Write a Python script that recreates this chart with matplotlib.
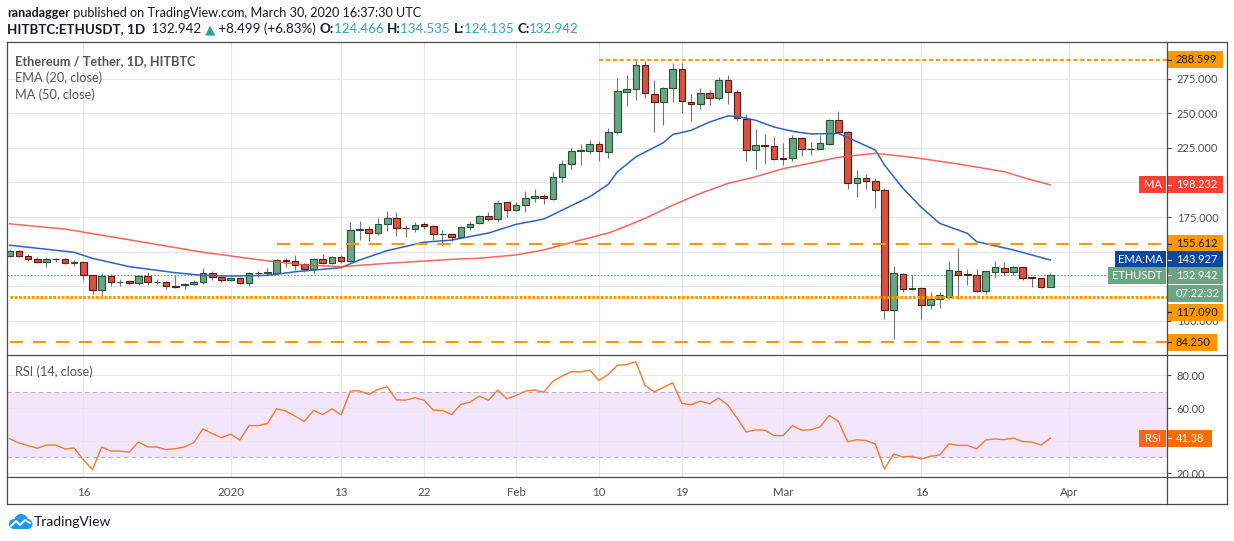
import numpy as np
import pandas as pd
import matplotlib
matplotlib.use("Agg")
import matplotlib.pyplot as plt
import matplotlib.dates as mdates
from matplotlib.patches import Rectangle, Circle
from matplotlib.lines import Line2D
from matplotlib.transforms import blended_transform_factory

plt.rcParams['font.family'] = ['Lato', 'DejaVu Sans']

# ---- data (HITBTC ETH/USDT daily) ----
start = '2019-12-08'
opens = [147.1, 150.5, 147.1, 144.9, 142.7, 144.7, 144.5, 141.5, 142.4, 133.0,
         122.1, 132.3, 127.9, 128.4, 127.0, 132.3, 127.7, 127.7, 125.3, 125.5,
         126.7, 127.7, 134.2, 131.3, 129.1, 130.6, 127.0, 134.2, 134.5, 134.7,
         143.9, 143.0, 140.8, 137.6, 144.4, 142.0, 146.4, 143.4, 165.3, 166.3,
         163.8, 169.9, 174.3, 167.0, 166.7, 169.9, 168.2, 162.6, 162.6, 160.2,
         167.7, 170.6, 176.0, 173.5, 185.7, 179.9, 183.5, 188.5, 189.9, 188.2,
         203.6, 213.0, 223.1, 223.1, 228.1, 222.1, 236.8, 265.6, 267.8, 285.1,
         263.9, 258.2, 268.3, 282.2, 258.4, 256.7, 264.9, 261.1, 274.3, 265.6,
         246.2, 223.8, 227.4, 226.7, 217.5, 217.5, 231.9, 224.2, 224.0, 228.1,
         244.9, 236.7, 199.4, 203.0, 200.8, 194.5, 107.7, 133.7, 122.7, 123.4,
         111.1, 115.5, 117.4, 135.6, 133.5, 133.0, 121.7, 135.5, 137.9, 135.5,
         138.6, 131.4, 130.7, 124.466]
highs = [151.9, 151.2, 148.3, 146.4, 145.9, 145.6, 145.4, 143.7, 142.7, 133.4,
         134.2, 133.7, 129.9, 129.4, 132.8, 135.2, 129.9, 128.4, 132.8, 127.4,
         129.4, 138.1, 135.9, 132.8, 131.8, 131.3, 135.2, 136.2, 137.9, 144.7,
         145.1, 147.3, 142.0, 145.6, 148.1, 147.1, 147.6, 171.1, 172.3, 168.2,
         174.5, 179.6, 178.4, 169.2, 171.4, 171.6, 168.9, 165.3, 162.9, 168.7,
         172.3, 176.5, 178.9, 187.6, 185.9, 185.7, 193.7, 195.2, 191.3, 207.7,
         216.1, 224.8, 227.6, 230.5, 229.8, 239.4, 275.5, 277.4, 288.599, 288.2,
         273.8, 269.0, 286.5, 286.5, 264.2, 268.3, 266.8, 276.0, 277.4, 266.8,
         249.8, 238.5, 234.9, 232.7, 228.4, 234.3, 233.1, 229.3, 234.3, 245.7,
         251.7, 237.2, 209.0, 206.1, 203.0, 195.8, 139.6, 134.5, 133.1, 124.1,
         120.8, 121.0, 143.2, 152.8, 137.2, 137.2, 136.2, 143.2, 142.2, 139.6,
         139.1, 131.9, 131.1, 134.535]
lows = [145.9, 146.4, 143.4, 142.0, 139.1, 142.7, 141.0, 139.8, 129.4, 119.2,
        116.7, 125.2, 125.2, 126.5, 126.0, 126.0, 126.5, 123.1, 124.0, 122.6,
        125.5, 126.9, 129.4, 127.7, 128.4, 126.2, 125.0, 131.8, 132.8, 134.2,
        138.6, 136.7, 135.2, 134.7, 141.0, 141.0, 141.5, 142.7, 158.5, 157.8,
        162.1, 164.6, 161.4, 160.9, 164.3, 166.3, 158.5, 154.9, 157.8, 159.5,
        165.3, 169.7, 171.8, 171.4, 174.8, 179.1, 178.8, 186.0, 184.6, 187.5,
        200.5, 209.6, 212.5, 220.9, 215.4, 217.8, 235.1, 255.3, 259.6, 261.1,
        236.5, 241.3, 258.2, 250.2, 244.7, 252.9, 255.8, 259.9, 256.5, 244.5,
        215.4, 209.9, 213.5, 216.1, 212.5, 215.8, 219.1, 219.9, 224.0, 227.1,
        235.5, 195.5, 189.7, 195.5, 181.3, 101.0, 87.0, 121.0, 122.2, 101.0,
        108.7, 109.4, 115.5, 116.0, 125.6, 121.0, 119.1, 131.9, 133.1, 133.1,
        129.5, 124.6, 123.4, 124.135]
closes = [150.5, 147.1, 144.9, 142.7, 144.7, 144.5, 141.5, 142.7, 133.0, 122.1,
          132.3, 127.7, 128.2, 127.0, 132.3, 127.7, 128.2, 124.8, 124.5, 126.5,
          127.9, 134.2, 131.3, 129.1, 130.6, 127.0, 134.2, 134.7, 135.2, 143.9,
          143.0, 140.5, 137.6, 144.4, 142.0, 146.4, 143.4, 165.3, 166.3, 163.8,
          169.9, 174.3, 167.0, 166.8, 169.2, 168.2, 162.6, 162.8, 160.2, 167.7,
          169.9, 176.0, 173.5, 185.2, 179.9, 184.0, 188.8, 189.9, 188.5, 203.6,
          213.2, 223.1, 223.3, 228.1, 223.1, 236.8, 265.9, 267.8, 285.1, 264.9,
          258.2, 268.3, 282.2, 259.1, 256.7, 264.9, 261.3, 274.3, 265.6, 246.9,
          223.8, 227.4, 226.7, 217.3, 217.3, 231.9, 224.0, 224.0, 228.3, 244.9,
          236.7, 199.4, 203.0, 200.8, 194.5, 107.7, 134.2, 122.7, 123.4, 111.1,
          115.5, 118.3, 136.4, 133.0, 133.3, 121.7, 135.6, 138.6, 135.5, 138.6,
          131.1, 130.7, 124.2, 132.942]
rsi = [41.2, 38.6, 36.9, 35.3, 37.3, 37.3, 34.9, 35.5, 28.3, 22.2,
       36.1, 33.6, 33.6, 33.0, 39.2, 36.1, 36.1, 34.5, 35.1, 36.1,
       38.8, 47.2, 44.3, 41.9, 43.9, 40.4, 49.2, 49.2, 50.5, 59.5,
       58.1, 55.0, 51.7, 58.5, 56.0, 59.5, 55.8, 70.4, 70.6, 68.3,
       71.4, 73.0, 65.0, 64.8, 66.3, 64.8, 58.7, 58.5, 56.0, 62.2,
       63.6, 67.3, 64.8, 71.0, 65.6, 67.7, 70.4, 71.0, 69.7, 76.5,
       79.6, 82.3, 82.1, 83.3, 76.9, 80.6, 86.2, 86.6, 88.4, 73.8,
       70.0, 72.6, 75.5, 62.8, 62.0, 64.2, 62.6, 66.1, 61.7, 53.7,
       45.3, 46.6, 46.4, 43.1, 43.1, 49.2, 46.4, 46.6, 48.4, 55.4,
       51.9, 39.2, 40.6, 40.0, 38.0, 22.6, 31.8, 30.0, 30.4, 28.7,
       30.4, 31.2, 38.0, 37.1, 37.1, 34.9, 40.4, 41.0, 40.6, 41.6,
       39.4, 39.2, 37.3, 41.38]

# EMA(20) / MA(50), days counted from `start`
ema_day = [0, 7, 9, 13, 18, 21, 24, 28, 31, 36, 38, 41, 45, 48, 52, 55, 58, 60, 63, 65,
           66, 68, 71, 72, 74, 76, 78, 79, 81, 83, 85, 87, 90, 92, 94, 95, 97, 99, 101,
           104, 105, 109, 113]
ema_val = [154.6, 149.5, 145.1, 139.1, 134.7, 132.8, 132.3, 132.8, 135.4, 138.4, 143.9,
           150.7, 156.8, 158.3, 163.4, 169.7, 173.5, 180.0, 189.7, 198.6, 207.7, 218.5,
           228.8, 234.6, 237.7, 243.7, 248.1, 247.8, 245.0, 240.1, 237.0, 235.1, 235.5,
           229.5, 223.5, 212.6, 195.8, 182.0, 170.4, 163.2, 157.2, 151.2, 143.927]
ma_day = [0, 6, 13, 21, 28, 32, 36, 41, 48, 51, 55, 58, 61, 65, 67, 69, 72, 75, 78, 81,
          84, 87, 90, 94, 98, 103, 108, 110, 113]
ma_val = [170.1, 166.3, 158.5, 149.5, 143.3, 140.3, 139.1, 141.5, 144.4, 145.2, 147.6,
          151.2, 156.6, 163.4, 168.5, 174.0, 183.5, 192.1, 199.3, 204.1, 210.0, 214.0,
          218.2, 221.1, 218.2, 213.4, 207.8, 203.7, 198.232]

level_vals = [288.599, 155.612, 117.090, 84.250]
level_from = ['2020-02-10', '2020-01-06', '2019-12-08', '2019-12-08']
last_price = 132.942
countdown = '07:22:32'

tick_dates = ['2019-12-16', '2020-01-01', '2020-01-13', '2020-01-22', '2020-02-01',
              '2020-02-10', '2020-02-19', '2020-03-01', '2020-03-16', '2020-04-01']
tick_labels = ['16', '2020', '13', '22', 'Feb', '10', '19', 'Mar', '16', 'Apr']

# ---- colours ----
UP, DOWN = '#6BA583', '#D75442'
UP_EDGE, DOWN_EDGE = '#225437', '#5B1A13'
WICK = '#737375'
ORANGE = '#FF9800'
GRID = '#E6E6E6'
FRAME = '#4A4A4A'
TXT = '#4F4F4F'
DARK = '#131722'
TEAL = '#35AB9C'

W, H = 1234, 541
fig = plt.figure(figsize=(W / 100, H / 100), dpi=100)


def frac(x0, y0, x1, y1):
    return [x0 / W, 1 - y1 / H, (x1 - x0) / W, (y1 - y0) / H]


ax = fig.add_axes(frac(7, 42, 1167, 355))
rx = fig.add_axes(frac(7, 355, 1167, 477), sharex=ax)

o, h, l, c = (np.array(v) for v in (opens, highs, lows, closes))
d0 = mdates.date2num(pd.Timestamp(start))
dates = mdates.date2num(pd.date_range(start, periods=len(c)))
up = c >= o

ax.set_xlim(d0 - 0.285, d0 + 125.68)
ax.set_ylim(75.2, 301.6)
rx.set_ylim(17.7, 92.5)

# candles
ax.vlines(dates, l, h, color=WICK, lw=0.8, zorder=3)
ax.bar(dates, np.maximum(np.abs(c - o), 0.05), bottom=np.minimum(o, c), width=0.72,
       color=np.where(up, UP, DOWN), edgecolor=np.where(up, UP_EDGE, DOWN_EDGE),
       linewidth=0.8, zorder=4)

ax.plot(d0 + np.array(ema_day), ema_val, color='#2F62C4', lw=1.1, zorder=5)
ax.plot(d0 + np.array(ma_day), ma_val, color='#F4564A', lw=1.1, alpha=0.9, zorder=5)

# horizontal levels
xr = ax.get_xlim()[1]
lvl_style = [dict(lw=1.5, dashes=(2.0, 1.3)), dict(lw=1.5, dashes=(6.3, 4.7)),
             dict(lw=2.2, dashes=(0.9, 0.5)), dict(lw=1.5, dashes=(6.3, 4.7))]
for v, f, st in zip(level_vals, level_from, lvl_style):
    ax.plot([mdates.date2num(pd.Timestamp(f)), xr], [v, v], color=ORANGE, zorder=6,
            solid_capstyle='butt', dash_capstyle='butt', **st)
ax.axhline(last_price, color=UP, lw=0.8, dashes=(1.5, 1.5), zorder=2)

# grids / ticks
tick_nums = mdates.date2num(pd.to_datetime(tick_dates))
for a in (ax, rx):
    a.set_xticks(tick_nums)
    a.grid(True, color=GRID, lw=0.8)
    a.set_axisbelow(True)
    for s in a.spines.values():
        s.set_visible(False)
    a.yaxis.tick_right()
    a.tick_params(axis='y', length=3, width=0.8, color=FRAME, labelcolor=TXT,
                  labelsize=8, pad=4)
ax.tick_params(axis='x', length=0, labelbottom=False)
rx.set_xticklabels(tick_labels)
rx.tick_params(axis='x', length=0, labelsize=8.3, labelcolor=TXT, pad=7)

# labels hidden behind the price tags in the reference are left blank
ax.set_yticks([100, 125, 150, 175, 200, 225, 250, 275])
ax.set_yticklabels(['' if v in (125, 150, 200) else f'{v:.3f}' for v in ax.get_yticks()])
rx.set_yticks([20, 40, 60, 80])
rx.set_yticklabels(['' if v == 40 else f'{v:.2f}' for v in rx.get_yticks()])

# RSI pane
rx.axhspan(30, 70, color='#F3E6FC', lw=0, zorder=0.5)
for v in (70, 30):
    rx.axhline(v, color='#B5B3BA', lw=0.8, dashes=(4, 3), zorder=1)
rx.plot(dates, rsi, color='#F57A30', lw=1.0, zorder=5)


# price tags on the axis (shift = pixels moved down to avoid a neighbour)
def tag(a, y, text, fc, tc, w=56, left=False, hpx=17, dash=True, shift=0):
    pos = a.get_position()
    aw, ah = pos.width * W, pos.height * H
    y0, y1 = a.get_ylim()
    ppu = ah / (y1 - y0)
    y = y - shift / ppu
    tr = blended_transform_factory(a.transAxes, a.transData)
    if left:
        x0 = 1 - (w + 1) / aw
        a.add_patch(Rectangle((x0, y - hpx / 2 / ppu), w / aw, hpx / ppu, transform=tr,
                              fc=fc, ec='none', clip_on=False, zorder=20))
        a.text(x0 + w / 2 / aw, y, text, transform=tr, ha='center', va='center',
               color=tc, fontsize=8, clip_on=False, zorder=21)
    else:
        a.add_patch(Rectangle((1, y - hpx / 2 / ppu), w / aw, hpx / ppu, transform=tr,
                              fc=fc, ec='none', clip_on=False, zorder=20))
        a.text(1 + 9 / aw, y, text, transform=tr, ha='left', va='center',
               color=tc, fontsize=8, clip_on=False, zorder=21)
        if dash:
            a.plot([1, 1 + 4 / aw], [y, y], transform=tr, color=tc, lw=0.8,
                   clip_on=False, zorder=22)


tag(ax, level_vals[0], f'{level_vals[0]:.3f}', ORANGE, DARK)
tag(ax, level_vals[1], f'{level_vals[1]:.3f}', ORANGE, DARK)
tag(ax, level_vals[2], f'{level_vals[2]:.3f}', ORANGE, DARK, shift=15)
tag(ax, level_vals[3], f'{level_vals[3]:.3f}', ORANGE, DARK, w=50)
tag(ax, ma_val[-1], 'MA', '#F44336', 'white', w=27, left=True)
tag(ax, ma_val[-1], f'{ma_val[-1]:.3f}', '#F44336', 'white')
tag(ax, ema_val[-1], 'EMA:MA', '#0E47A1', 'white', w=51, left=True)
tag(ax, ema_val[-1], f'{ema_val[-1]:.3f}', '#0E47A1', 'white')
tag(ax, last_price, 'ETHUSDT', UP, 'white', w=58, left=True)
tag(ax, last_price, f'{last_price:.3f}', UP, 'white')
tag(ax, last_price, countdown, UP, 'white', dash=False, shift=18)
tag(rx, rsi[-1], 'RSI', '#F4681E', 'white', w=27, left=True)
tag(rx, rsi[-1], f'{rsi[-1]:.2f}', '#FF6D00', 'white', w=45)

# frame lines
for y in (42, 355, 477, 504):
    fig.add_artist(Line2D([7 / W, 1227 / W], [1 - y / H] * 2, color=FRAME, lw=0.9))
for x in (7, 1167, 1227):
    fig.add_artist(Line2D([x / W] * 2, [1 - 42 / H, 1 - 504 / H], color=FRAME, lw=0.9))

# legends inside panes
ax.text(8 / 1160, 1 - 19 / 313, 'Ethereum / Tether, 1D, HITBTC', transform=ax.transAxes,
        fontsize=9.2, color='#555555', fontweight='bold', va='center', zorder=30)
ax.text(8 / 1160, 1 - 36 / 313, 'EMA (20, close)', transform=ax.transAxes,
        fontsize=9.2, color='#555555', va='center', zorder=30)
ax.text(8 / 1160, 1 - 53 / 313, 'MA (50, close)', transform=ax.transAxes,
        fontsize=9.2, color='#555555', va='center', zorder=30)
rx.text(8 / 1160, 1 - 17 / 122, 'RSI (14, close)', transform=rx.transAxes,
        fontsize=9.2, color='#555555', va='center', zorder=30)


# header lines built from coloured pieces, each placed after the previous one
def line(parts, x, y, size):
    prev = None
    for txt, col, wt in parts:
        if prev is None:
            prev = fig.text(x / W, 1 - y / H, txt, color=col, fontweight=wt,
                            fontsize=size, va='bottom')
        else:
            prev = ax.annotate(txt, xy=(1, 0), xycoords=prev, va='bottom', ha='left',
                               color=col, fontweight=wt, fontsize=size,
                               annotation_clip=False)


line([('ranadagger', DARK, 'bold'),
      (' published on TradingView.com, March 30, 2020 16:37:30 UTC', DARK, 'normal')],
     7, 19, 9.1)
line([('HITBTC:ETHUSDT, 1D ', DARK, 'bold'), (' 132.942 ', DARK, 'normal'),
      ('▲', '#26A69A', 'normal'), (' +8.499 (+6.83%) ', DARK, 'normal'),
      ('O:', DARK, 'bold'), ('124.466 ', TEAL, 'normal'),
      ('H:', DARK, 'bold'), ('134.535 ', TEAL, 'normal'),
      ('L:', DARK, 'bold'), ('124.135 ', TEAL, 'normal'),
      ('C:', DARK, 'bold'), ('132.942', TEAL, 'normal')],
     7, 35, 9.6)

# TradingView logo
lg = fig.add_axes(frac(8, 513, 33, 531))
lg.set_xlim(0, 25)
lg.set_ylim(0, 18)
lg.axis('off')
for cx, cy, r in ((6, 7, 5), (13, 10, 7), (19.5, 7, 5)):
    lg.add_patch(Circle((cx, cy), r, color='#2196F3', lw=0))
lg.add_patch(Rectangle((6, 2), 13.5, 5, color='#2196F3', lw=0))
lg.plot([3, 8, 12, 17, 22], [5, 10, 6, 11, 8], color='white', lw=1.3)
fig.text(34 / W, 1 - 522 / H, 'TradingView', fontsize=10, color=DARK, va='center')

fig.savefig('out.png', dpi=100)
